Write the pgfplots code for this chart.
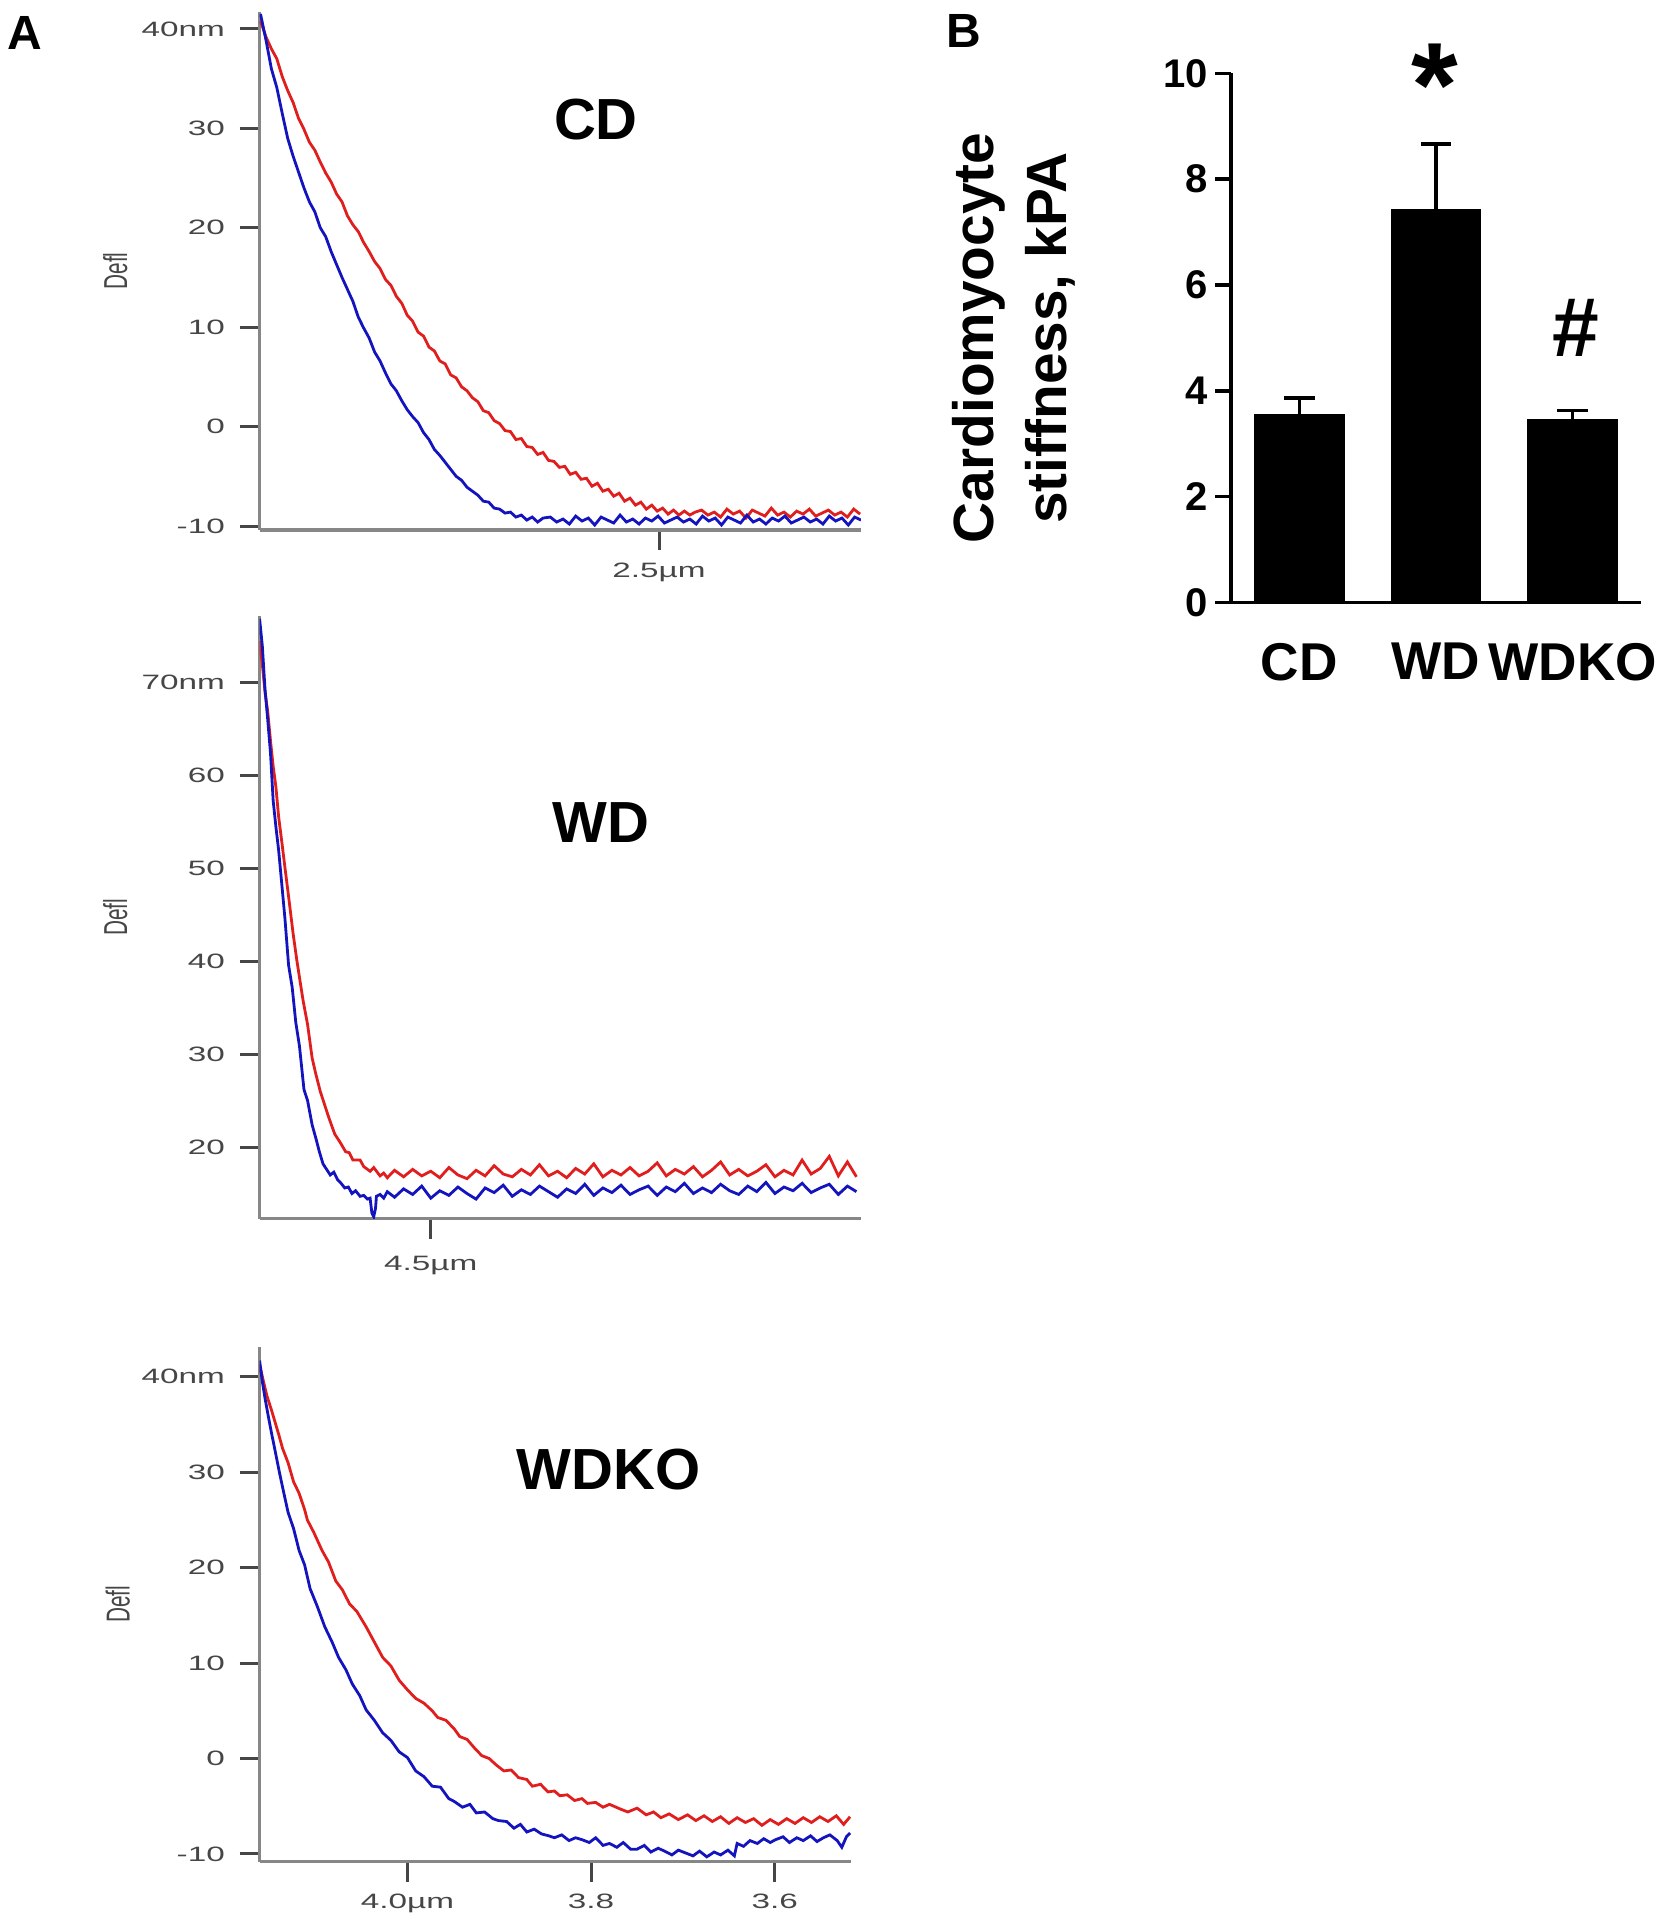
\documentclass[border=0pt]{standalone}
\usepackage{fontspec}
\setmainfont{Liberation Sans}
\newfontfamily\afm[FakeStretch=1.6]{Liberation Sans}
\newfontfamily\afmrot[FakeStretch=0.625]{Liberation Sans}
\usepackage{pgfplots}
\pgfplotsset{compat=1.18}
\definecolor{afmred}{RGB}{225,30,30}
\definecolor{afmblue}{RGB}{20,20,190}
\definecolor{axgray}{RGB}{135,135,135}
\definecolor{lblgray}{RGB}{70,70,70}
\pgfplotsset{afm/.style={
  scale only axis, axis lines=left, axis line style={-, draw=axgray, line width=0.8pt},
  x dir=reverse, tick align=outside, major tick length=5pt, minor tick num=0,
  tick style={draw=lblgray, line width=0.75pt},
  tick label style={font=\afm\fontsize{5.2}{6}\selectfont, text=lblgray},
  yticklabel style={inner sep=0pt, xshift=-3.5pt},
  xticklabel style={inner sep=0pt, yshift=-3pt},
  ylabel={Defl},
  ylabel style={font=\afmrot\fontsize{8.3}{9}\selectfont, text=lblgray, at={(axis description cs:-0.24,0.5)}, anchor=center},
}}
\begin{document}
\begin{tikzpicture}
\useasboundingbox (0,0) rectangle (418.25pt,480pt);
% ---------------- CD ----------------
\begin{axis}[afm, at={(64.9pt,347.5pt)}, anchor=south west, width=150.35pt, height=129.5pt,
  xmin=2.277, xmax=2.941, ymin=-10.4, ymax=41.7,
  xtick={2.5}, xticklabels={2.5µm},
  ytick={-10,0,10,20,30,40}, yticklabels={-10,0,10,20,30,40nm}]
\addplot[afmred, line width=0.7pt] coordinates {
(2.940,40.8)(2.934,39.2)(2.928,38.0)(2.922,37.0)(2.916,35.2)(2.910,33.8)(2.904,32.6)(2.898,31.0)
(2.892,29.9)(2.886,28.6)(2.880,27.8)(2.874,26.6)(2.868,25.5)(2.862,24.6)(2.856,23.4)(2.850,22.6)
(2.844,21.2)(2.838,20.3)(2.832,19.6)(2.826,18.5)(2.820,17.6)(2.814,16.6)(2.808,15.9)(2.802,14.8)
(2.796,14.2)(2.790,13.1)(2.784,12.4)(2.778,11.2)(2.772,10.6)(2.766,9.5)(2.760,9.1)(2.754,8.0)
(2.748,7.6)(2.742,6.6)(2.736,6.3)(2.730,5.2)(2.724,4.9)(2.718,4.0)(2.712,3.6)(2.706,2.9)
(2.700,2.5)(2.694,1.6)(2.688,1.4)(2.682,0.6)(2.676,0.3)(2.670,-0.4)(2.664,-0.5)(2.658,-1.3)
(2.652,-1.2)(2.646,-2.0)(2.640,-2.1)(2.634,-2.8)(2.628,-2.6)(2.622,-3.4)(2.616,-3.5)(2.610,-4.1)
(2.604,-4.0)(2.598,-4.8)(2.592,-4.6)(2.586,-5.3)(2.580,-5.2)(2.574,-6.0)(2.568,-5.7)(2.562,-6.5)
(2.556,-6.3)(2.550,-7.0)(2.544,-6.7)(2.538,-7.5)(2.532,-7.2)(2.526,-7.9)(2.520,-7.6)(2.514,-8.3)
(2.508,-7.9)(2.502,-8.5)(2.496,-8.2)(2.490,-8.8)(2.484,-8.4)(2.478,-8.9)(2.472,-8.5)(2.466,-8.9)
(2.460,-8.6)(2.453,-8.4)(2.446,-8.9)(2.439,-8.6)(2.432,-9.1)(2.425,-8.3)(2.418,-8.8)(2.411,-8.5)
(2.404,-9.2)(2.397,-8.4)(2.390,-8.7)(2.383,-9.0)(2.376,-8.2)(2.369,-8.9)(2.362,-8.6)(2.355,-9.1)
(2.348,-8.5)(2.341,-8.8)(2.334,-8.3)(2.327,-9.0)(2.320,-8.7)(2.313,-8.4)(2.306,-8.9)(2.299,-8.6)
(2.292,-9.1)(2.285,-8.3)(2.278,-8.8)};
\addplot[afmblue, line width=0.7pt] coordinates {
(2.940,41.5)(2.934,38.9)(2.928,36.0)(2.922,34.1)(2.916,31.5)(2.910,29.0)(2.904,27.2)(2.898,25.6)
(2.892,24.0)(2.886,22.6)(2.880,21.6)(2.874,20.0)(2.868,19.1)(2.862,17.6)(2.856,16.3)(2.850,15.0)
(2.844,13.8)(2.838,12.6)(2.832,11.0)(2.826,9.9)(2.820,8.9)(2.814,7.5)(2.808,6.6)(2.802,5.4)
(2.796,4.3)(2.790,3.6)(2.784,2.6)(2.778,1.7)(2.772,1.0)(2.766,0.4)(2.760,-0.6)(2.754,-1.3)
(2.748,-2.3)(2.742,-2.9)(2.736,-3.6)(2.730,-4.3)(2.724,-5.0)(2.718,-5.4)(2.712,-6.1)(2.706,-6.5)
(2.700,-6.9)(2.694,-7.5)(2.688,-7.6)(2.682,-8.2)(2.676,-8.3)(2.670,-8.7)(2.664,-8.6)(2.658,-9.1)
(2.652,-8.9)(2.646,-9.4)(2.640,-9.1)(2.634,-9.6)(2.628,-9.2)
(2.620,-9.1)(2.613,-9.6)(2.606,-9.3)(2.599,-9.8)(2.592,-9.0)(2.585,-9.5)(2.578,-9.2)(2.571,-9.9)
(2.564,-9.1)(2.557,-9.4)(2.550,-9.7)(2.543,-8.9)(2.536,-9.6)(2.529,-9.3)(2.522,-9.8)(2.515,-9.2)
(2.508,-9.5)(2.501,-9.0)(2.494,-9.7)(2.487,-9.4)(2.480,-9.1)(2.473,-9.6)(2.466,-9.3)(2.459,-9.8)
(2.452,-9.0)(2.445,-9.5)(2.438,-9.2)(2.431,-9.9)(2.424,-9.1)(2.417,-9.4)(2.410,-9.7)(2.403,-8.9)
(2.396,-9.6)(2.389,-9.3)(2.382,-9.8)(2.375,-9.2)(2.368,-9.5)(2.361,-9.0)(2.354,-9.7)(2.347,-9.4)
(2.340,-9.1)(2.333,-9.6)(2.326,-9.3)(2.319,-9.8)(2.312,-9.0)(2.305,-9.5)(2.298,-9.2)(2.291,-9.9)
(2.284,-9.1)(2.277,-9.4)};
\end{axis}
% ---------------- WD ----------------
\begin{axis}[afm, at={(64.9pt,175.35pt)}, anchor=south west, width=150.35pt, height=150.65pt,
  xmin=4.025, xmax=4.689, ymin=12.3, ymax=77.2,
  xtick={4.5}, xticklabels={4.5µm}, xticklabel style={yshift=-1.3pt},
  ytick={20,30,40,50,60,70}, yticklabels={20,30,40,50,60,70nm}]
\addplot[afmred, line width=0.7pt] coordinates {
(4.689,74.5)(4.686,72.0)(4.683,69.0)(4.680,66.9)(4.677,63.8)(4.674,61.0)(4.671,58.8)(4.668,55.6)
(4.664,52.5)(4.661,50.1)(4.657,47.0)(4.652,43.0)(4.648,40.2)(4.645,38.3)(4.641,35.8)(4.636,33.2)
(4.631,29.6)(4.627,27.9)(4.622,26.0)(4.618,24.8)(4.613,23.3)(4.609,22.2)(4.606,21.4)(4.600,20.5)
(4.594,19.5)(4.590,19.4)(4.586,18.6)(4.578,18.6)(4.574,17.9)(4.567,17.4)(4.563,17.8)(4.556,16.9)
(4.552,17.2)(4.548,16.7)
(4.540,17.5)(4.530,16.8)(4.520,17.6)(4.510,16.9)(4.500,17.4)(4.490,16.7)(4.480,17.8)(4.470,17.0)
(4.460,16.6)(4.450,17.5)(4.440,16.9)(4.430,18.0)(4.420,17.1)(4.410,16.8)(4.400,17.6)(4.390,17.0)
(4.380,18.1)(4.370,16.9)(4.360,17.4)(4.350,16.7)(4.340,17.7)(4.330,17.1)(4.320,18.2)(4.310,16.8)
(4.300,17.5)(4.290,17.0)(4.280,17.8)(4.270,16.9)(4.260,17.4)(4.250,18.3)(4.240,16.9)(4.230,17.6)
(4.220,17.1)(4.210,17.9)(4.200,16.8)(4.190,17.5)(4.180,18.4)(4.170,17.0)(4.160,17.6)(4.150,16.9)
(4.140,17.4)(4.130,18.1)(4.120,16.8)(4.110,17.5)(4.100,17.0)(4.090,18.6)(4.080,17.1)(4.070,17.7)
(4.060,19.0)(4.050,16.9)(4.040,18.4)(4.030,16.8)};
\addplot[afmblue, line width=0.7pt] coordinates {
(4.689,76.9)(4.686,74.0)(4.683,69.3)(4.680,66.0)(4.677,62.5)(4.674,57.3)(4.671,54.5)(4.668,52.0)
(4.664,47.8)(4.661,44.6)(4.657,39.6)(4.653,37.2)(4.649,33.4)(4.645,30.9)(4.640,26.2)(4.636,25.0)
(4.631,22.4)(4.627,21.0)(4.623,19.5)(4.619,18.2)(4.615,17.6)(4.611,17.0)(4.607,17.3)(4.603,16.5)
(4.599,16.1)(4.595,15.6)(4.591,15.7)(4.587,15.0)(4.583,15.3)(4.578,14.7)(4.574,14.8)(4.570,14.4)
(4.567,14.5)(4.565,12.9)(4.563,12.5)(4.561,13.4)(4.560,14.7)(4.556,14.9)(4.552,14.5)(4.548,15.2)
(4.540,14.6)(4.530,15.5)(4.520,14.9)(4.510,15.8)(4.500,14.5)(4.490,15.3)(4.480,14.8)(4.470,15.7)
(4.460,15.0)(4.450,14.4)(4.440,15.6)(4.430,15.1)(4.420,15.9)(4.410,14.7)(4.400,15.4)(4.390,14.9)
(4.380,15.8)(4.370,15.2)(4.360,14.6)(4.350,15.5)(4.340,15.0)(4.330,16.0)(4.320,14.8)(4.310,15.6)
(4.300,15.1)(4.290,15.9)(4.280,14.9)(4.270,15.4)(4.260,15.8)(4.250,14.8)(4.240,15.7)(4.230,15.2)
(4.220,16.1)(4.210,15.0)(4.200,15.6)(4.190,15.1)(4.180,16.0)(4.170,15.3)(4.160,14.9)(4.150,15.8)
(4.140,15.2)(4.130,16.2)(4.120,15.0)(4.110,15.7)(4.100,15.3)(4.090,16.1)(4.080,15.1)(4.070,15.6)
(4.060,16.0)(4.050,14.9)(4.040,15.8)(4.030,15.2)};
\end{axis}
% ---------------- WDKO ----------------
\begin{axis}[afm, at={(64.9pt,14.6pt)}, anchor=south west, width=147.85pt, height=128.6pt,
  xmin=3.517, xmax=4.161, ymin=-10.8, ymax=43.1,
  xtick={4.0,3.8,3.6}, xticklabels={4.0µm,3.8,3.6},
  ytick={-10,0,10,20,30,40}, yticklabels={-10,0,10,20,30,40nm}]
\addplot[afmred, line width=0.7pt] coordinates {
(4.161,41.3)(4.157,39.6)(4.153,38.0)(4.148,36.5)(4.144,35.2)(4.140,33.9)(4.136,32.5)(4.130,31.0)
(4.124,29.0)(4.118,27.8)(4.112,26.1)(4.109,25.0)(4.102,23.7)(4.093,21.8)(4.086,20.6)(4.078,18.6)
(4.071,17.7)(4.063,16.2)(4.055,15.4)(4.045,13.8)(4.036,12.2)(4.027,10.6)(4.018,9.7)(4.009,8.2)
(4.000,7.2)(3.991,6.3)(3.982,5.8)(3.973,5.0)(3.967,4.3)(3.958,4.0)(3.949,3.1)(3.943,2.3)
(3.935,2.0)(3.927,1.1)(3.919,0.3)(3.911,0.0)(3.903,-0.7)(3.895,-1.3)(3.887,-1.2)(3.879,-2.0)
(3.870,-2.2)(3.864,-2.9)(3.855,-2.7)(3.847,-3.5)(3.840,-3.4)(3.834,-3.9)(3.826,-3.8)(3.818,-4.4)
(3.810,-4.2)(3.804,-4.7)(3.795,-4.6)(3.787,-5.1)(3.780,-4.8)(3.768,-5.3)(3.760,-5.6)(3.750,-5.2)
(3.740,-5.9)(3.732,-5.6)(3.724,-6.2)(3.715,-5.8)(3.705,-6.4)(3.695,-5.9)(3.686,-6.5)(3.677,-6.0)
(3.668,-6.6)(3.659,-6.1)(3.650,-6.8)(3.641,-6.2)(3.632,-6.7)(3.623,-6.3)(3.614,-7.0)(3.605,-6.4)
(3.596,-6.9)(3.587,-6.3)(3.578,-6.8)(3.569,-6.2)(3.560,-6.7)(3.551,-6.1)(3.542,-6.6)(3.533,-6.0)
(3.525,-6.9)(3.518,-6.1)};
\addplot[afmblue, line width=0.7pt] coordinates {
(4.161,41.7)(4.158,39.5)(4.155,37.7)(4.151,35.6)(4.148,34.1)(4.144,32.2)(4.139,29.8)(4.135,28.0)
(4.130,25.8)(4.124,24.1)(4.118,21.8)(4.112,20.3)(4.106,17.8)(4.098,15.9)(4.090,13.8)(4.082,12.2)
(4.075,10.6)(4.067,9.3)(4.060,7.8)(4.052,6.6)(4.045,5.1)(4.036,4.0)(4.027,2.7)(4.018,1.9)
(4.009,0.7)(4.000,0.1)(3.991,-1.3)(3.982,-1.9)(3.973,-2.9)(3.964,-3.0)(3.955,-4.2)(3.949,-4.5)
(3.940,-5.1)(3.932,-4.8)(3.925,-5.7)(3.916,-5.6)(3.907,-6.3)(3.901,-6.5)(3.892,-6.6)(3.884,-7.3)
(3.877,-6.9)(3.870,-7.7)(3.862,-7.4)(3.854,-7.9)(3.846,-8.1)(3.840,-8.3)(3.832,-8.0)(3.824,-8.6)
(3.817,-8.3)(3.810,-8.5)(3.802,-8.8)(3.795,-8.3)(3.787,-9.1)(3.780,-8.9)(3.772,-9.3)(3.765,-8.8)
(3.757,-9.5)(3.750,-9.5)(3.742,-9.1)(3.735,-9.8)(3.727,-9.4)(3.720,-9.7)(3.712,-10.1)(3.705,-9.6)
(3.697,-9.9)(3.689,-10.2)(3.682,-9.7)(3.674,-10.3)(3.666,-9.8)(3.659,-10.1)(3.651,-9.6)(3.644,-10.2)
(3.641,-8.9)(3.634,-9.2)(3.627,-8.6)(3.619,-8.9)(3.612,-8.4)(3.605,-8.8)(3.599,-8.5)(3.591,-8.2)
(3.584,-8.8)(3.576,-8.3)(3.569,-8.6)(3.561,-8.1)(3.554,-8.7)(3.547,-8.3)(3.540,-8.0)(3.532,-8.6)
(3.527,-9.3)(3.522,-8.2)(3.518,-7.8)};
\end{axis}
% ---------------- B ----------------
\begin{axis}[scale only axis, at={(307.75pt,329.4pt)}, anchor=south west, width=102.5pt, height=132.25pt,
  xmin=-0.5, xmax=2.5, ymin=0, ymax=10,
  axis lines=left, axis line style={-, line width=0.9pt},
  tick align=outside, major tick length=4pt, minor tick num=0,
  ytick={0,2,4,6,8,10}, yticklabels={0,2,4,6,8,10},
  ytick style={line width=0.9pt, black},
  xtick={0,1,2}, xticklabels={CD,WD,WDKO}, xtick style={draw=none},
  yticklabel style={font=\bfseries\fontsize{10}{12}\selectfont, inner sep=0pt, xshift=-1.5pt},
  xticklabel style={font=\bfseries\fontsize{13.3}{15}\selectfont, inner sep=0pt, yshift=-6pt},
  ylabel={Cardiomyocyte\\stiffness, kPA},
  ylabel style={align=center, font=\bfseries\fontsize{14.2}{18.4}\selectfont, at={(axis description cs:-0.53,0.5)}, anchor=center}]
\addplot[ybar, bar width=0.65, fill=black, draw=black,
  error bars/.cd, y dir=plus, y explicit,
  error bar style={line width=0.9pt, black},
  error mark options={rotate=90, line width=0.9pt, mark size=3.8pt, black}]
  coordinates {(0,3.55) +- (0,0.31) (1,7.42) +- (0,1.24) (2,3.45) +- (0,0.18)};
\end{axis}
% ---------------- text ----------------
\node[font=\bfseries\fontsize{14.5}{15}\selectfont] at (149pt,450pt) {CD};
\node[font=\bfseries\fontsize{14.5}{15}\selectfont] at (150.3pt,274.3pt) {WD};
\node[font=\bfseries\fontsize{14.5}{15}\selectfont] at (152.2pt,112.5pt) {WDKO};
\node[font=\bfseries\fontsize{12}{12}\selectfont] at (6.1pt,471.7pt) {A};
\node[font=\bfseries\fontsize{12}{12}\selectfont] at (241pt,472.3pt) {B};
\node[font=\bfseries\fontsize{30}{30}\selectfont] at (358.8pt,458.6pt) {*};
\node[font=\bfseries\fontsize{21}{21}\selectfont] at (394pt,398pt) {\#};
\end{tikzpicture}
\end{document}
